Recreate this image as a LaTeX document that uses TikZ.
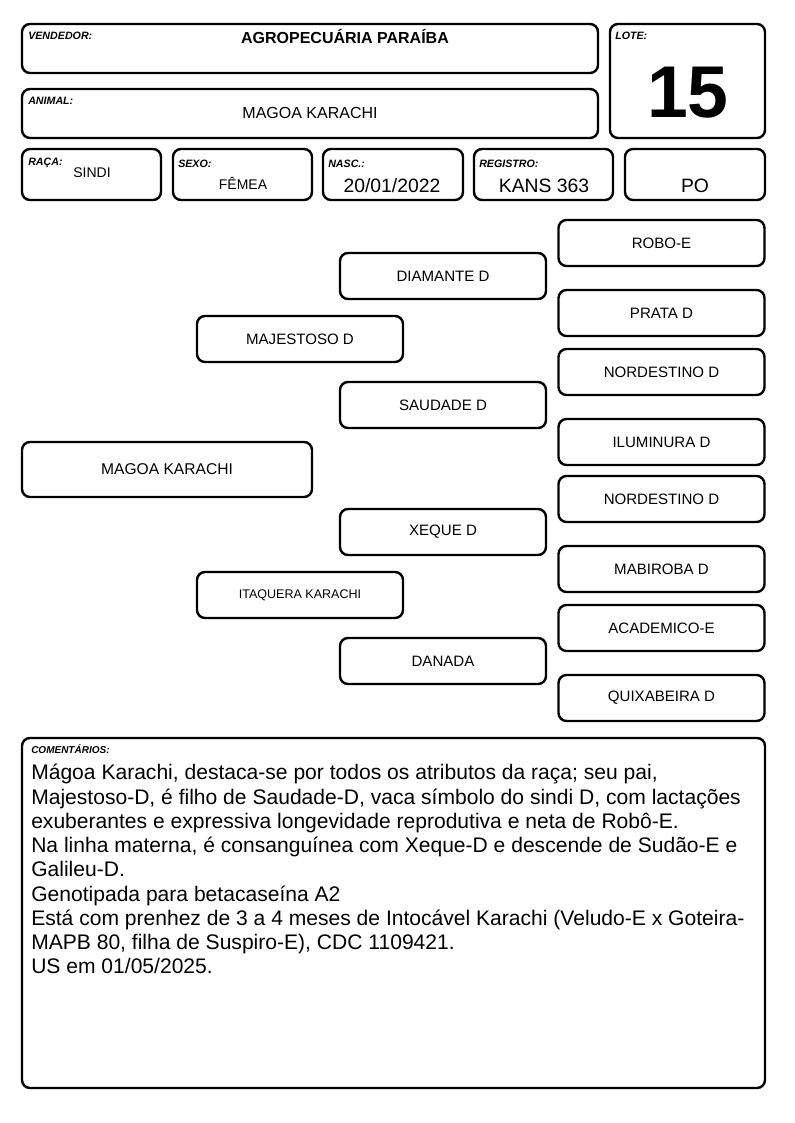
\documentclass[tikz,border=0pt]{standalone}
\usepackage{fontspec}
\setmainfont{Liberation Sans}
\usepackage{tikz}
\usetikzlibrary{positioning}

\newcommand{\fs}[1]{\fontsize{#1}{#1}\selectfont}

\begin{document}
\begin{tikzpicture} [x = 0.75pt, y = -0.75pt,
		box/.style = {draw,
			rounded corners = 6pt,
			line width = 1.8pt,
			inner sep = 0pt},
		dims/.style 2 args = {minimum width = #1*0.75pt,
			minimum height = #2*0.75pt},
		tag/.style = {anchor = base west,
			inner sep = 0pt,
			font = \fs{8}\bfseries\itshape},
		val/.style = {anchor = base,
			inner sep = 0pt},
		anc/.style = {box, dims = {206}{46}, font = \fs{11.3}}]

	\useasboundingbox (0,0) rectangle (794,1123);

	% header
	\node (vendedor) [box, dims = {576}{49}] at (310,48.5) {};
	\node (animal) [box, dims = {576}{49}] at (310,113.5) {};
	\node (lote) [box, dims = {155}{114}] at (687.5,81) {};
	\node (raca) [box, dims = {139}{51}] at (91.5,174.5) {};
	\node (sexo) [box, dims = {139}{51}] at (242.5,174.5) {};
	\node (nasc) [box, dims = {140}{51}] at (393,174.5) {};
	\node (registro) [box, dims = {139}{51}] at (543.5,174.5) {};
	\node (po) [box, dims = {140}{51}] at (695,174.5) {};

	\node (vendedor tag) [tag] at (28,40) {VENDEDOR:};
	\node (animal tag) [tag] at (28,105) {ANIMAL:};
	\node (lote tag) [tag] at (615,40) {LOTE:};
	\node (raca tag) [tag] at (28,166) {RAÇA:};
	\node (sexo tag) [tag] at (178,168) {SEXO:};
	\node (nasc tag) [tag] at (328,168) {NASC.:};
	\node (registro tag) [tag] at (479,168) {REGISTRO:};

	\node (vendedor val) [val, font = \fs{12}\bfseries] at (345,44) {AGROPECUÁRIA PARAÍBA};
	\node (animal val) [val, font = \fs{12}] at (310,119) {MAGOA KARACHI};
	\node (lote val) [val, font = \fs{55}\bfseries] at (688,118) {15};
	\node (raca val) [val, font = \fs{10.5}] at (92,178) {SINDI};
	\node (sexo val) [val, font = \fs{10.5}] at (243,190) {FÊMEA};
	\node (nasc val) [val, font = \fs{14.5}] at (392,193) {20/01/2022};
	\node (registro val) [val, font = \fs{14.5}] at (544,193) {KANS 363};
	\node (po val) [val, font = \fs{14.5}] at (695,193) {PO};

	% pedigree
	\node (animal box) [box, dims = {290}{55}, font = \fs{11.7}] at (167,469.5) {MAGOA KARACHI};

	\node (pai) [anc] at (300,339) {MAJESTOSO D};
	\node (mae) [anc, font = \fs{9.4}] at (300,595) {ITAQUERA KARACHI};

	\node (avo pp) [anc] at (443,276) {DIAMANTE D};
	\node (avo pm) [anc] at (443,405) {SAUDADE D};
	\node (avo mp) [anc] at (443,532) {XEQUE D};
	\node (avo mm) [anc] at (443,661) {DANADA};

	\node (bis 1) [anc] at (661.5,243) {ROBO-E};
	\node (bis 2) [anc] at (661.5,313) {PRATA D};
	\node (bis 3) [anc] at (661.5,372) {NORDESTINO D};
	\node (bis 4) [anc] at (661.5,442) {ILUMINURA D};
	\node (bis 5) [anc] at (661.5,499) {NORDESTINO D};
	\node (bis 6) [anc] at (661.5,569) {MABIROBA D};
	\node (bis 7) [anc] at (661.5,628) {ACADEMICO-E};
	\node (bis 8) [anc] at (661.5,698) {QUIXABEIRA D};

	% comments
	\node (comentarios) [box, dims = {743}{350}] at (393.5,913) {};
	\node (comentarios tag) [tag, font = \fs{7.5}\bfseries\itshape] at (31,753) {COMENTÁRIOS:};
	\node (comentarios txt) [anchor = north west, inner sep = 0pt, align = left,
		font = \fontsize{15.8}{18.2}\selectfont] at (31,764)
		{Mágoa Karachi, destaca-se por todos os atributos da raça; seu pai,\\
		Majestoso-D, é filho de Saudade-D, vaca símbolo do sindi D, com lactações\\
		exuberantes e expressiva longevidade reprodutiva e neta de Robô-E.\\
		Na linha materna, é consanguínea com Xeque-D e descende de Sudão-E e\\
		Galileu-D.\\
		Genotipada para betacaseína A2\\
		Está com prenhez de 3 a 4 meses de Intocável Karachi (Veludo-E x Goteira-\\
		MAPB 80, filha de Suspiro-E), CDC 1109421.\\
		US em 01/05/2025.};
\end{tikzpicture}
\end{document}
